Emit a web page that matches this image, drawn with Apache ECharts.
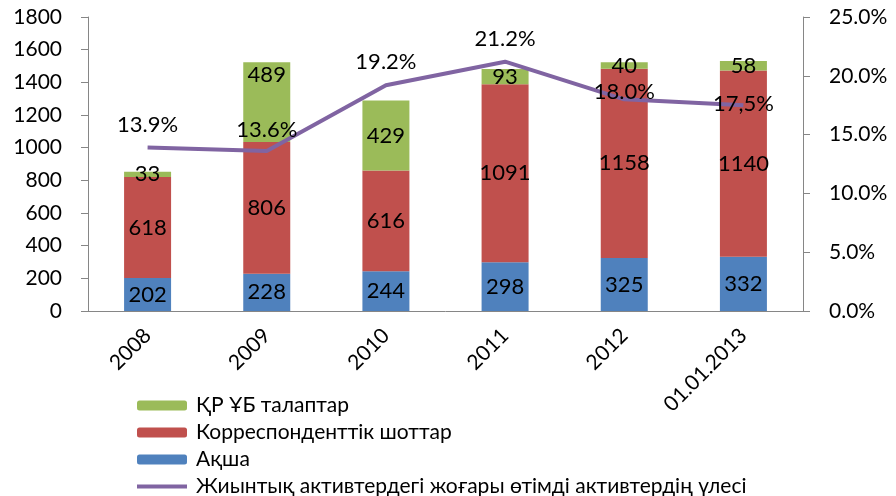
<!DOCTYPE html>
<html>
<head>
<meta charset="utf-8">
<script src="https://cdn.jsdelivr.net/npm/echarts@6/dist/echarts.min.js"></script>
<style>
  html, body { margin: 0; padding: 0; background: #fff; }
  #chart { width: 896px; height: 496px; }
</style>
</head>
<body>
<div id="chart"></div>
<script>
// categories and values
const years = ['2008', '2009', '2010', '2011', '2012', '01.01.2013']
const cash = [202, 228, 244, 298, 325, 332]
const corrAccounts = [618, 806, 616, 1091, 1158, 1140]
const nbClaims = [33, 489, 429, 93, 40, 58]
const liquidShare = [13.9, 13.6, 19.2, 21.2, 18.0, 17.5]
const shareLabels = ['13.9%', '13.6%', '19.2%', '21.2%', '18.0%', '17,5%']

const font = 'Lato'
const axisColor = '#868686'
const lineName = 'Жиынтық активтердегі жоғары өтімді активтердің үлесі'

const chart = echarts.init(document.getElementById('chart'))

// small nudges so labels sit where the original ones are
const shareOffsets = [[0, -2], [0, 0], [0, -2], [0, -2], [0, 14], [0, 20]]
const claimOffsets = [[0, 0], [0, -27], [0, 0], [0, 0], [0, 0], [0, 0]]

const barLabel = {
  show: true,
  position: 'inside',
  color: '#000',
  fontFamily: font,
  fontSize: 22
}

chart.setOption({
  animation: false,
  textStyle: { fontFamily: font },
  grid: { left: 88, right: 93, top: 17, bottom: 185 },
  legend: {
    orient: 'vertical',
    left: 137,
    top: 395,
    height: 130,
    padding: 0,
    itemWidth: 50,
    itemHeight: 10,
    itemGap: 6,
    textStyle: { fontFamily: font, fontSize: 21, color: '#000', lineHeight: 20, padding: [0, 0, 0, 4] },
    data: [
      'ҚР ҰБ талаптар',
      'Корреспонденттік шоттар',
      'Ақша',
      { name: lineName, icon: 'path://M0,0 H50 V4 H0 Z' }
    ]
  },
  xAxis: {
    type: 'category',
    data: years,
    axisLine: { lineStyle: { color: axisColor } },
    axisTick: { length: 7, lineStyle: { color: axisColor } },
    axisLabel: { rotate: 45, color: '#000', fontSize: 21, margin: 21, interval: 0 }
  },
  yAxis: [
    {
      type: 'value',
      min: 0,
      max: 1800,
      interval: 200,
      splitLine: { show: false },
      axisLine: { show: true, lineStyle: { color: axisColor } },
      axisTick: { show: true, length: 7, lineStyle: { color: axisColor } },
      axisLabel: { color: '#000', fontSize: 21, margin: 26, formatter: v => String(v) }
    },
    {
      type: 'value',
      min: 0,
      max: 25,
      interval: 5,
      splitLine: { show: false },
      axisLine: { show: true, lineStyle: { color: axisColor } },
      axisTick: { show: true, length: 7, lineStyle: { color: axisColor } },
      axisLabel: {
        color: '#000',
        fontSize: 21,
        margin: 26,
        formatter: v => v.toFixed(1) + '%'
      }
    }
  ],
  series: [
    {
      name: 'Ақша',
      type: 'bar',
      stack: 'assets',
      barWidth: 47,
      itemStyle: { color: '#4F81BD' },
      label: barLabel,
      data: cash
    },
    {
      name: 'Корреспонденттік шоттар',
      type: 'bar',
      stack: 'assets',
      itemStyle: { color: '#C0504D' },
      label: barLabel,
      data: corrAccounts
    },
    {
      name: 'ҚР ҰБ талаптар',
      type: 'bar',
      stack: 'assets',
      itemStyle: { color: '#9BBB59' },
      label: barLabel,
      data: nbClaims.map((v, i) => ({ value: v, label: { offset: claimOffsets[i] } }))
    },
    {
      name: lineName,
      type: 'line',
      yAxisIndex: 1,
      symbol: 'circle',
      symbolSize: 0,
      showSymbol: true,
      z: 5,
      lineStyle: { color: '#8064A2', width: 4 },
      itemStyle: { color: '#8064A2' },
      label: {
        show: true,
        position: 'top',
        distance: 10,
        color: '#000',
        fontSize: 22,
        formatter: p => shareLabels[p.dataIndex]
      },
      data: liquidShare.map((v, i) => ({ value: v, label: { offset: shareOffsets[i] } }))
    }
  ]
})
</script>
</body>
</html>
